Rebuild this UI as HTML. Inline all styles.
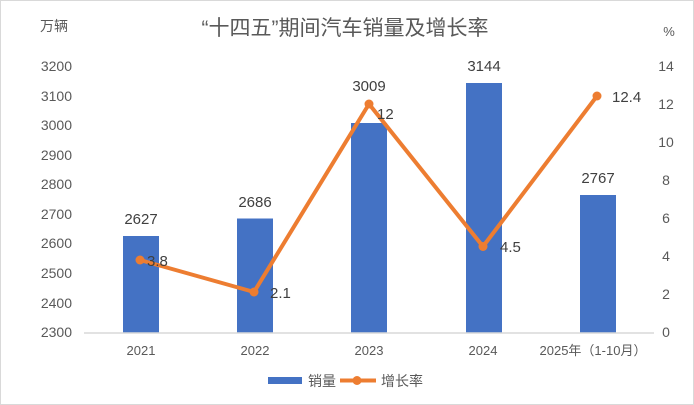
<!DOCTYPE html>
<html><head><meta charset="utf-8"><style>
html,body{margin:0;padding:0;background:#fff}
svg{display:block}
text{font-family:"Liberation Sans","Noto Sans CJK SC",sans-serif}
</style></head><body>
<svg width="694" height="405" viewBox="0 0 694 405" xmlns="http://www.w3.org/2000/svg">
<rect x="0.5" y="0.5" width="693" height="404" fill="#fff" stroke="#d9d9d9"/>
<text x="345" y="35" font-size="21" fill="#595959" text-anchor="middle">“十四五”期间汽车销量及增长率</text>
<text x="40" y="31" font-size="14" fill="#595959">万辆</text>
<text x="669" y="36" font-size="13" fill="#595959" text-anchor="middle">%</text>
<g font-size="14" fill="#595959" text-anchor="end">
<text x="72" y="71">3200</text><text x="72" y="101">3100</text><text x="72" y="130">3000</text>
<text x="72" y="160">2900</text><text x="72" y="189">2800</text><text x="72" y="219">2700</text>
<text x="72" y="248">2600</text><text x="72" y="278">2500</text><text x="72" y="308">2400</text>
<text x="72" y="337">2300</text>
</g>
<g font-size="14" fill="#595959" text-anchor="middle">
<text x="666" y="71">14</text><text x="666" y="109">12</text><text x="666" y="147">10</text>
<text x="666" y="185">8</text><text x="666" y="223">6</text><text x="666" y="261">4</text>
<text x="666" y="299">2</text><text x="666" y="337">0</text>
</g>
<g fill="#4472c4">
<rect x="123" y="236" width="36" height="97"/>
<rect x="237" y="218.5" width="36" height="114.5"/>
<rect x="351" y="123" width="36" height="210"/>
<rect x="466" y="83" width="36" height="250"/>
<rect x="580" y="195" width="36" height="138"/>
</g>
<line x1="84" y1="333" x2="654" y2="333" stroke="#d9d9d9" stroke-width="1.5"/>
<polyline points="140,260 254,292 369,104 483,246.5 597,96" fill="none" stroke="#ed7d31" stroke-width="4" stroke-linejoin="round"/>
<g fill="#ed7d31">
<circle cx="140" cy="260" r="4.5"/><circle cx="254" cy="292" r="4.5"/><circle cx="369" cy="104" r="4.5"/>
<circle cx="483" cy="246.5" r="4.5"/><circle cx="597" cy="96" r="4.5"/>
</g>
<g font-size="15" fill="#404040" text-anchor="middle">
<text x="141" y="224">2627</text><text x="255" y="207">2686</text>
<text x="369" y="91">3009</text><text x="484" y="71">3144</text><text x="598" y="183">2767</text>
</g>
<g font-size="15" fill="#404040">
<text x="147" y="266">3.8</text><text x="270" y="298">2.1</text><text x="377" y="119">12</text>
<text x="500" y="252">4.5</text><text x="612" y="102">12.4</text>
</g>
<g font-size="13" fill="#595959" text-anchor="middle">
<text x="141" y="355">2021</text><text x="255" y="355">2022</text><text x="369" y="355">2023</text>
<text x="483" y="355">2024</text><text x="593" y="355">2025年（1-10月）</text>
</g>
<rect x="268" y="377" width="34" height="7" fill="#4472c4"/>
<text x="308" y="386" font-size="14" fill="#595959">销量</text>
<line x1="340" y1="380.5" x2="376" y2="380.5" stroke="#ed7d31" stroke-width="4"/>
<circle cx="357" cy="380.5" r="4.5" fill="#ed7d31"/>
<text x="381" y="386" font-size="14" fill="#595959">增长率</text>
</svg>
</body></html>
